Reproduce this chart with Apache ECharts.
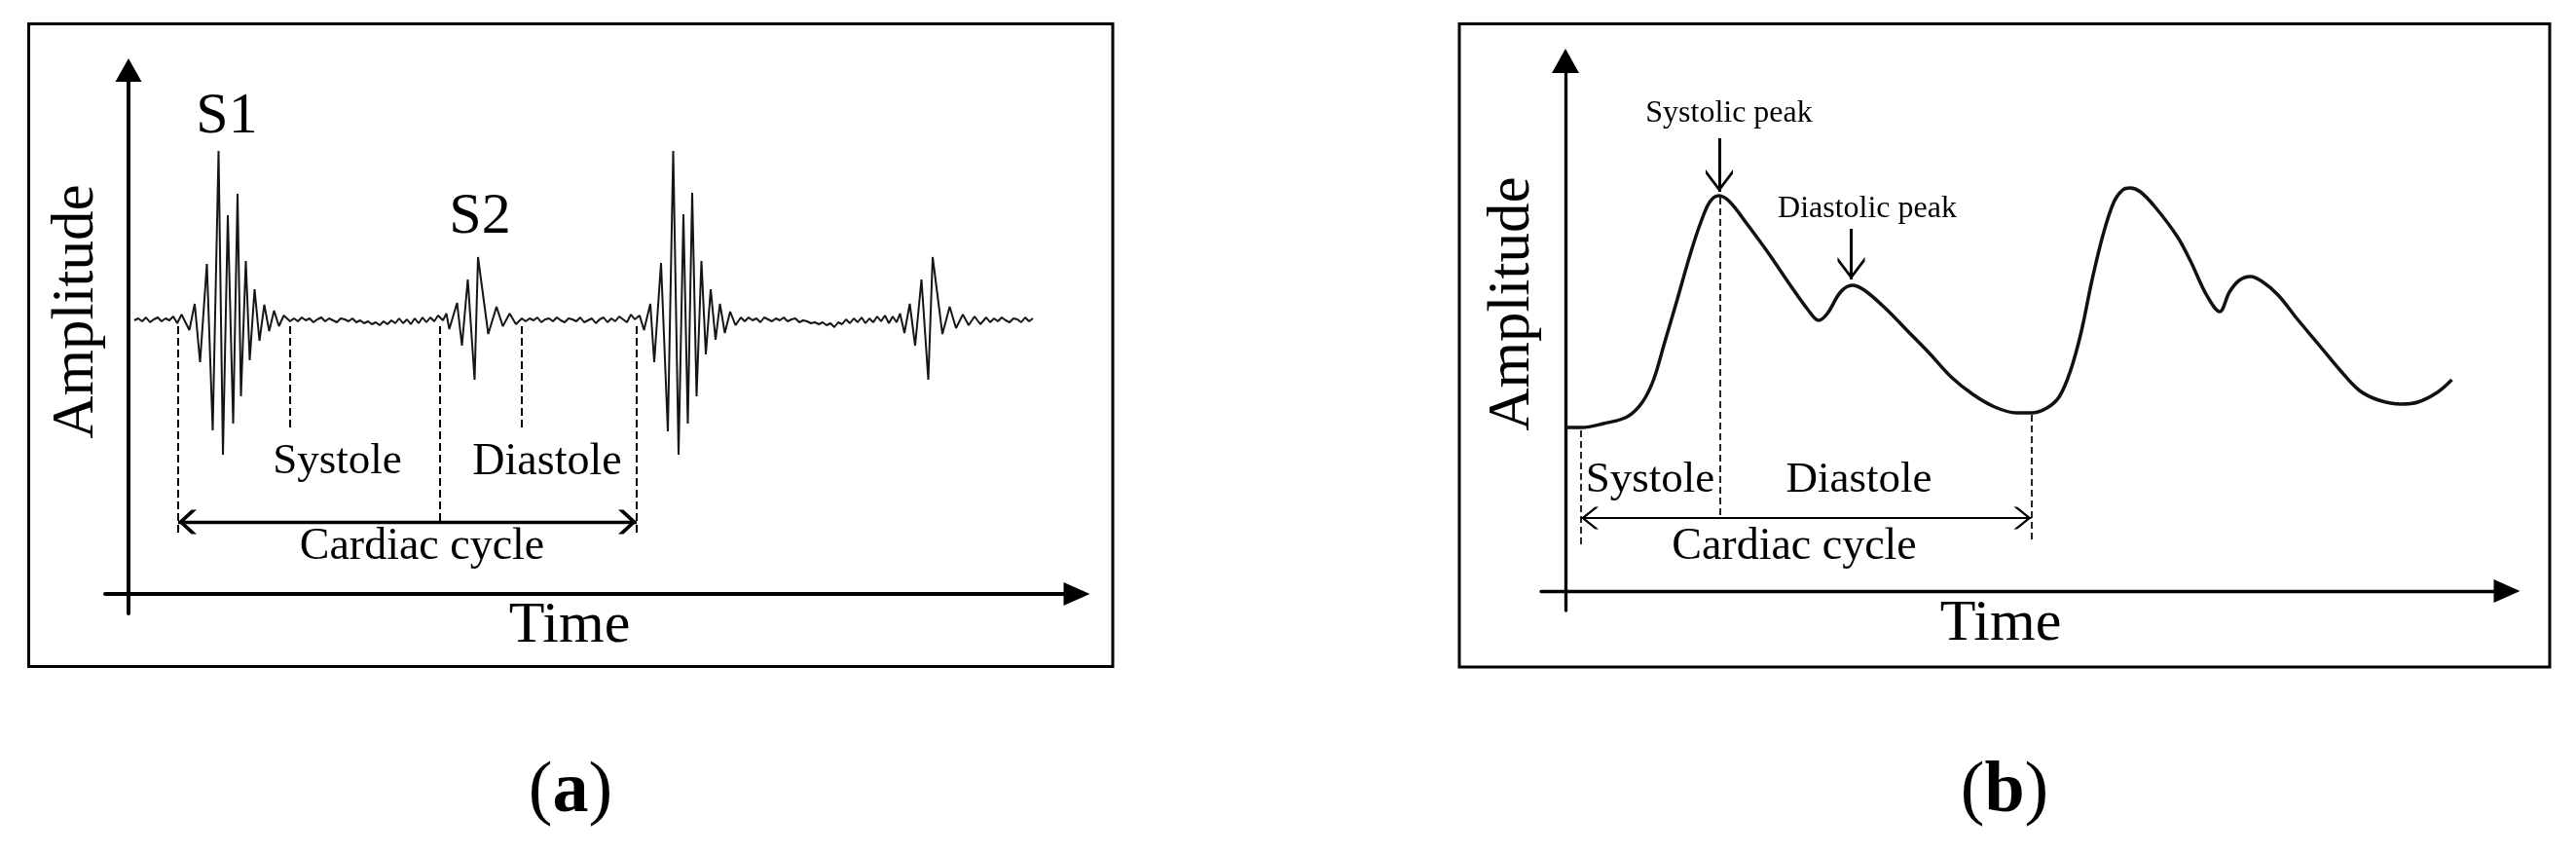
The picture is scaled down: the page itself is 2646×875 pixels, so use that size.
<!DOCTYPE html>
<html><head><meta charset="utf-8">
<script src="https://cdn.jsdelivr.net/npm/echarts@6/dist/echarts.min.js"></script>
<style>html,body{margin:0;padding:0;background:#fff}#c{width:2646px;height:875px}</style>
</head><body><div id="c"></div>
<script>
// ===== Panel (a): heart sound (PCG). time in ms, amplitude in a.u. =====
const pcgQuiet1 = [[60,0.00],[68,0.02],[76,-0.01],[84,0.03],[92,-0.02],[100,0.01],[108,0.03],[116,-0.01],[124,0.02],[132,0.00],[140,0.04],[148,-0.03]];
const pcgS1 = [[157,0.06],[173,-0.10],[184,0.17],[195,-0.43],[209,0.58],[221,-1.13],[233,1.74],[242,-1.38],[252,1.08],[263,-1.06],[272,1.30],[279,-0.78],[289,0.61],[297,-0.41],[307,0.32],[317,-0.21],[327,0.16],[337,-0.11],[347,0.10],[357,-0.06],[367,0.05],[380,-0.01]];
const pcgQuiet2 = [[388,0.02],[396,-0.01],[404,0.03],[412,0.00],[420,0.02],[428,-0.02],[436,0.01],[444,0.03],[452,-0.01],[460,0.02],[468,0.00],[476,-0.02],[484,0.02],[492,0.01],[500,-0.01],[508,0.02],[516,-0.02],[524,0.00],[532,-0.03],[540,-0.01],[548,-0.04],[556,-0.02],[564,-0.05],[572,-0.01],[580,-0.04],[588,0.00],[596,-0.03],[604,0.02],[612,-0.03],[620,0.01],[628,-0.04],[636,0.02],[644,-0.03],[652,0.03],[660,-0.02],[668,0.03],[676,-0.01],[684,0.05]];
const pcgS2 = [[694,0.00],[701,0.07],[707,-0.09],[723,0.18],[733,-0.26],[745,0.42],[759,-0.61],[766,0.65],[787,-0.14],[804,0.14],[817,-0.06],[831,0.07],[844,-0.04],[856,0.02]];
const pcgQuiet3 = [[864,-0.01],[872,0.02],[880,0.00],[888,0.03],[896,-0.02],[904,0.01],[912,0.02],[920,-0.01],[928,0.03],[936,0.00],[944,-0.02],[952,0.02],[960,0.01],[968,-0.01],[976,0.03],[984,-0.02],[992,0.00],[1000,0.02],[1008,-0.03],[1016,0.01],[1024,0.03],[1032,-0.02],[1040,0.02],[1048,-0.01],[1056,0.04],[1064,0.01],[1072,-0.02],[1080,0.06],[1088,0.01]];
const pcgS1b = [[1092,0.00],[1098,0.05],[1107,-0.10],[1120,0.17],[1128,-0.43],[1142,0.59],[1156,-1.14],[1167,1.74],[1178,-1.38],[1188,1.09],[1197,-1.06],[1206,1.31],[1215,-0.78],[1225,0.61],[1234,-0.35],[1244,0.32],[1254,-0.20],[1263,0.17],[1273,-0.13],[1284,0.09],[1295,-0.05],[1306,0.03]];
const pcgQuiet4 = [[1314,-0.01],[1322,0.03],[1330,0.00],[1338,0.02],[1346,-0.02],[1354,0.03],[1362,0.01],[1370,-0.01],[1378,0.02],[1386,0.00],[1394,0.03],[1402,-0.01],[1410,0.01],[1418,0.02],[1426,-0.02],[1434,0.00],[1442,-0.01],[1450,-0.03],[1458,-0.02],[1466,-0.04],[1474,-0.02],[1482,-0.05],[1490,-0.03],[1498,-0.07],[1506,-0.02],[1514,-0.04],[1522,0.01],[1530,-0.03],[1538,0.02],[1546,-0.02],[1554,0.03],[1562,-0.03],[1570,0.02],[1578,-0.02],[1586,0.04],[1594,-0.01],[1602,0.05],[1610,-0.03],[1618,0.04],[1626,-0.02]];
const pcgS2b = [[1633,0.07],[1642,-0.13],[1653,0.17],[1664,-0.26],[1677,0.42],[1691,-0.61],[1700,0.65],[1720,-0.14],[1735,0.14],[1748,-0.08],[1762,0.06],[1774,-0.05],[1786,0.04],[1798,-0.04],[1810,0.03]];
const pcgQuiet5 = [[1818,-0.02],[1826,0.02],[1834,-0.01],[1842,0.03],[1850,0.00],[1858,-0.02],[1866,0.02],[1874,0.01],[1882,-0.02],[1890,0.03],[1898,-0.01],[1906,0.02]];
// phase guide lines: [time, amplitude from, amplitude to]
const pcgPhaseMarks = [[150,-0.06,-2.20],[380,-0.06,-1.14],[688,-0.06,-2.07],[856,-0.06,-1.14],[1092,-0.06,-2.20]];
const pcgCycle = [150, 1092, -2.07]; // start, end, level

// ===== Panel (b): pulse wave (PPG). time in ms, amplitude in a.u. =====
const ppgWave = [[50,1.68],[83,1.68],[128,1.72],[177,1.79],[208,1.94],[231,2.17],[253,2.54],[280,3.00],[307,3.47],[329,3.80],[347,4.00],[365,4.06],[387,4.00],[423,3.77],[467,3.47],[512,3.14],[548,2.89],[570,2.78],[588,2.85],[615,3.07],[639,3.14],[664,3.09],[708,2.90],[753,2.67],[798,2.44],[842,2.20],[887,2.02],[932,1.89],[976,1.83],[1007,1.83],[1039,1.88],[1065,2.00],[1088,2.27],[1110,2.67],[1132,3.20],[1155,3.67],[1177,4.00],[1195,4.12],[1210,4.14],[1231,4.10],[1262,3.94],[1307,3.64],[1334,3.39],[1367,3.04],[1394,2.87],[1414,3.07],[1434,3.19],[1457,3.23],[1481,3.18],[1514,3.04],[1554,2.79],[1601,2.51],[1641,2.27],[1681,2.06],[1721,1.96],[1767,1.92],[1801,1.94],[1841,2.04],[1871,2.17]];
const ppgPhaseMarks = [[82,1.65,0.44],[368,4.04,0.75],[1007,1.81,0.51]];
const ppgCycle = [82, 1007, 0.75];
const ppgPeakArrows = [[366,4.65,4.10],[637,3.72,3.20]];

// ===== text =====
const txtA = { y: 'Amplitude', x: 'Time', s1: 'S1', s2: 'S2', sys: 'Systole', dia: 'Diastole', cyc: 'Cardiac cycle' };
const txtB = { y: 'Amplitude', x: 'Time', sysPeak: 'Systolic peak', diaPeak: 'Diastolic peak', sys: 'Systole', dia: 'Diastole', cyc: 'Cardiac cycle' };

const pcgSignal = [].concat(pcgQuiet1, pcgS1, pcgQuiet2, pcgS2, pcgQuiet3, pcgS1b, pcgQuiet4, pcgS2b, pcgQuiet5);

const SERIF = '"Liberation Serif","Times New Roman",serif';
const CHEV_THICK = 'path://M10,0 L20,10 L20,14 L10,4 L0,14 L0,10 Z M10,-14 L10,-14';
const CHEV_THIN = 'path://M10,0 L20,10 L20,12.5 L10,2.5 L0,12.5 L0,10 Z M10,-12.5 L10,-12.5';

function label(text, x, y, size, extra) {
  return Object.assign({
    type: 'text', x: x, y: y, silent: true, z: 20,
    style: { text: text, font: size + 'px ' + SERIF, fill: '#000',
      align: 'center', verticalAlign: 'middle', textAlign: 'center', textVerticalAlign: 'middle' }
  }, extra || {});
}
function caption(letter, x, y) {
  return {
    type: 'text', x: x, y: y, silent: true, z: 20,
    style: { text: '{p|(}{b|' + letter + '}{p|)}', fill: '#000',
      align: 'center', verticalAlign: 'middle', textAlign: 'center', textVerticalAlign: 'middle',
      rich: { p: { fontSize: 74, fontFamily: SERIF, fill: '#000' },
              b: { fontSize: 74, fontFamily: SERIF, fontWeight: 'bold', fill: '#000' } } }
  };
}
function xAx(gi, max, w) {
  return { type: 'value', gridIndex: gi, min: 0, max: max, offset: -20,
    axisLine: { show: true, onZero: false, symbol: ['none', 'triangle'], symbolSize: [24, 27],
      lineStyle: { color: '#000', width: w } },
    axisTick: { show: false }, axisLabel: { show: false }, splitLine: { show: false } };
}
function yAx(gi, min, max, off, w, sz) {
  return { type: 'value', gridIndex: gi, min: min, max: max, offset: off,
    axisLine: { show: true, onZero: false, symbol: ['none', 'triangle'], symbolSize: sz,
      lineStyle: { color: '#000', width: w } },
    axisTick: { show: false }, axisLabel: { show: false }, splitLine: { show: false } };
}
function guides(marks) {
  return marks.map(m => [{ coord: [m[0], m[1]] }, { coord: [m[0], m[2]] }]);
}
function arrowPair(x1, y1, x2, y2, s1, z1, s2, z2) {
  return [{ coord: [x1, y1], symbol: s1, symbolSize: z1 }, { coord: [x2, y2], symbol: s2, symbolSize: z2 }];
}

const chart = echarts.init(document.getElementById('c'), null, { renderer: 'canvas' });
chart.setOption({
  animation: false,
  backgroundColor: '#fff',
  grid: [
    { left: 108, top: 72, width: 998, height: 558, containLabel: false, outerBoundsMode: 'none' },
    { left: 1583, top: 62.5, width: 992, height: 564.5, containLabel: false, outerBoundsMode: 'none' }
  ],
  xAxis: [xAx(0, 1996, 4), xAx(1, 1984, 3.3)],
  yAxis: [yAx(0, -3.01, 2.57, -24, 4, [27, 24]), yAx(1, -0.20, 5.445, -25, 3.3, [28, 25])],
  series: [
    { type: 'line', xAxisIndex: 0, yAxisIndex: 0, data: pcgSignal, symbol: 'none', showSymbol: false, silent: true,
      lineStyle: { color: '#151515', width: 2 },
      markLine: { silent: true, animation: false, symbol: ['none', 'none'], label: { show: false }, emphasis: { disabled: true },
        lineStyle: { type: [8, 4], width: 2, color: '#000' }, data: guides(pcgPhaseMarks) } },
    { type: 'line', xAxisIndex: 0, yAxisIndex: 0, data: [], silent: true,
      markLine: { silent: true, animation: false, symbol: 'none', symbolSize: 10,
        label: { show: false }, emphasis: { disabled: true },
        lineStyle: { type: 'solid', width: 3.3, color: '#000' },
        data: [arrowPair(pcgCycle[0], pcgCycle[2], pcgCycle[1], pcgCycle[2], CHEV_THICK, [25, 38], CHEV_THICK, [25, 38])] } },
    { type: 'line', xAxisIndex: 1, yAxisIndex: 1, data: ppgWave, symbol: 'none', showSymbol: false, silent: true, smooth: 0.35,
      lineStyle: { color: '#111', width: 3.5 },
      markLine: { silent: true, animation: false, symbol: ['none', 'none'], label: { show: false }, emphasis: { disabled: true },
        lineStyle: { type: [7, 4], width: 1.7, color: '#000' }, data: guides(ppgPhaseMarks) } },
    { type: 'line', xAxisIndex: 1, yAxisIndex: 1, data: [], silent: true,
      markLine: { silent: true, animation: false, symbol: 'none', symbolSize: 10,
        label: { show: false }, emphasis: { disabled: true },
        lineStyle: { type: 'solid', width: 2, color: '#000' },
        data: [arrowPair(ppgCycle[0], ppgCycle[2], ppgCycle[1], ppgCycle[2], CHEV_THIN, [23, 36], CHEV_THIN, [23, 36])] } },
    { type: 'line', xAxisIndex: 1, yAxisIndex: 1, data: [], silent: true,
      markLine: { silent: true, animation: false, symbol: 'none', symbolSize: 10,
        label: { show: false }, emphasis: { disabled: true },
        lineStyle: { type: 'solid', width: 3, color: '#000' },
        data: ppgPeakArrows.map(m => arrowPair(m[0], m[1], m[0], m[2], 'none', 1, CHEV_THIN, [28, 46])) } }
  ],
  graphic: { elements: [
    { type: 'rect', silent: true, shape: { x: 29.5, y: 24.5, width: 1113.5, height: 660 }, style: { fill: 'none', stroke: '#000', lineWidth: 3 } },
    { type: 'rect', silent: true, shape: { x: 1499, y: 24.5, width: 1120, height: 660.5 }, style: { fill: 'none', stroke: '#000', lineWidth: 3 } },
    // panel (a)
    label(txtA.y, 78.5, 320, 61, { rotation: Math.PI / 2 }),
    label(txtA.x, 585, 643, 60),
    label(txtA.s1, 233, 120, 60),
    label(txtA.s2, 493, 223, 60),
    label(txtA.sys, 346.5, 474, 45),
    label(txtA.dia, 562, 474.5, 46),
    label(txtA.cyc, 433.5, 562, 46),
    // panel (b)
    label(txtB.y, 1554, 312, 61, { rotation: Math.PI / 2 }),
    label(txtB.x, 2055, 641, 60),
    label(txtB.sysPeak, 1776, 117, 32),
    label(txtB.diaPeak, 1918, 215, 32),
    label(txtB.sys, 1695, 493, 45),
    label(txtB.dia, 1909.5, 493, 45),
    label(txtB.cyc, 1843, 561.5, 46),
    caption('a', 586, 814),
    caption('b', 2059, 814)
  ] }
});
</script>
</body></html>
